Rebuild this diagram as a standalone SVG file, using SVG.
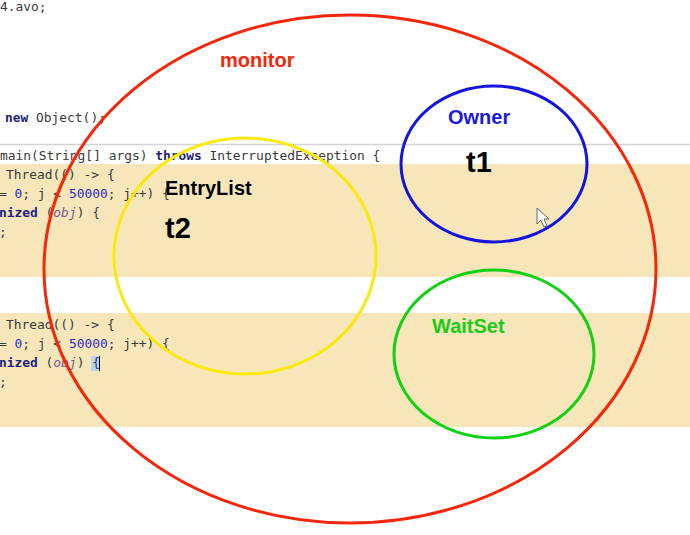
<svg xmlns="http://www.w3.org/2000/svg" width="690" height="535" viewBox="0 0 690 535">
<style>
.code{font-family:"DejaVu Sans Mono","Liberation Mono",monospace;font-size:12.9px;fill:#3a3a3a}
.kw{font-weight:bold;fill:#1f1f80}
.num{fill:#2a2ad0}
.it{font-style:italic;fill:#7a5a8e}
.band{fill:#f6e6ba}
.lbl{font-family:"Liberation Sans",Arial,sans-serif;font-weight:bold;font-size:20px}
.big{font-family:"Liberation Sans",Arial,sans-serif;font-weight:bold;font-size:29px;fill:#000}
.ring{fill:none;stroke-width:3}
</style>
<rect x="0" y="0" width="690" height="535" fill="#ffffff"/>
<g id="code-background">
<rect class="band" x="0" y="164" width="690" height="113"/>
<rect class="band" x="0" y="313" width="690" height="114"/>
<line x1="0" y1="144.5" x2="690" y2="144.5" stroke="#d4d4d4" stroke-width="1.5"/>
<rect x="91" y="356" width="9" height="15" fill="#b9d3f2"/>
<line x1="99.5" y1="356" x2="99.5" y2="371" stroke="#000" stroke-width="1"/>
<text class="code" x="0" y="11">4.avo;</text>
<text class="code" x="5" y="122"><tspan class="kw">new</tspan> Object();</text>
<text class="code" x="0" y="160">main(String[] args) <tspan class="kw">throws</tspan> InterruptedException {</text>
<text class="code" x="6" y="179">Thread(() -&gt; {</text>
<text class="code" x="-1" y="198">= <tspan class="num">0</tspan>; j &lt; <tspan class="num">50000</tspan>; j++) {</text>
<text class="code" x="-1" y="217"><tspan class="kw">nized</tspan> (<tspan class="it">obj</tspan>) {</text>
<text class="code" x="-1" y="236">;</text>
<text class="code" x="6" y="329">Thread(() -&gt; {</text>
<text class="code" x="-1" y="348">= <tspan class="num">0</tspan>; j &lt; <tspan class="num">50000</tspan>; j++) {</text>
<text class="code" x="-1" y="367"><tspan class="kw">nized</tspan> (<tspan class="it">obj</tspan>) {</text>
<text class="code" x="-1" y="386">;</text>
</g>
<g id="monitor">
<ellipse class="ring" cx="350" cy="269" rx="306" ry="254" stroke="#f5260a"/>
<text class="lbl" x="220" y="67" fill="#f5260a">monitor</text>
</g>
<g id="entrylist">
<ellipse class="ring" cx="245" cy="256" rx="131" ry="118" stroke="#f8ea10"/>
<text class="lbl" x="165" y="195" fill="#000">EntryList</text>
<text class="big" x="165" y="238">t2</text>
</g>
<g id="owner">
<ellipse class="ring" cx="494" cy="164" rx="93" ry="78" stroke="#1414dc"/>
<text class="lbl" x="448" y="124" fill="#1a1ad8">Owner</text>
<text class="big" x="466" y="172">t1</text>
</g>
<g id="waitset">
<ellipse class="ring" cx="494" cy="354" rx="100" ry="84" stroke="#12d012"/>
<text class="lbl" x="432" y="333" fill="#18cc18">WaitSet</text>
</g>
<g id="connectors"></g>
<g id="cursor">
<polygon points="537,208 537,224 541,220 544,227 547,226 544,219 549,219" fill="#ffffff" stroke="#666" stroke-width="1"/>
</g>
</svg>
